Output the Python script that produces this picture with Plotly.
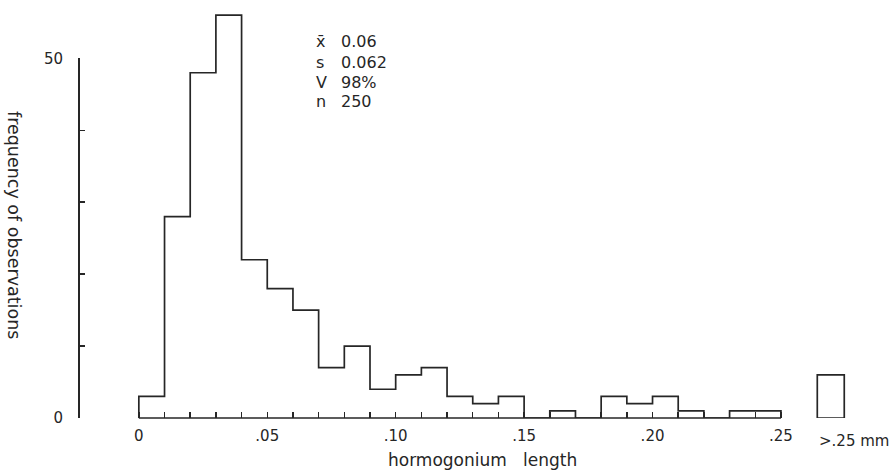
import plotly.graph_objects as go

# ---------------- data ----------------
BIN_LEFT = [0.00, 0.01, 0.02, 0.03, 0.04, 0.05, 0.06, 0.07, 0.08, 0.09,
            0.10, 0.11, 0.12, 0.13, 0.14, 0.15, 0.16, 0.17, 0.18, 0.19,
            0.20, 0.21, 0.22, 0.23, 0.24]
BIN_WIDTH = 0.01
COUNTS = [3, 28, 48, 56, 22, 18, 15, 7, 10, 4,
          6, 7, 3, 2, 3, 0, 1, 0, 3, 2,
          3, 1, 0, 1, 1]
OVER_COUNT = 6
OVER_LABEL = ">.25 mm"

X_TICK_VALUES = [0.00, 0.05, 0.10, 0.15, 0.20, 0.25]
X_TICK_LABELS = ["0", ".05", ".10", ".15", ".20", ".25"]
Y_TICK_VALUES = [0, 10, 20, 30, 40, 50]
Y_TICK_LABELS = ["0", "", "", "", "", "50"]

STAT_SYMBOLS = ["x\u0304", "s", "V", "n"]
STAT_VALUES = ["0.06", "0.062", "98%", "250"]

X_TITLE = "hormogonium\u00a0\u00a0\u00a0length"
Y_TITLE = "frequency of observations"

# ---------------- layout constants ----------------
W, H = 894, 472
ML, MR, MT, MB = 40, 36, 8, 54
PW, PH = W - ML - MR, H - MT - MB
X_RANGE = [-0.005, 0.28]
Y_RANGE = [0, 57]
X_DOMAIN_START_PX = 126
Y_AXIS_PX = 78
OVER_X, OVER_W = 0.2694, 0.0105
INK = "#262626"
FONT = "DejaVu Sans"


def pxx(px):
    return (px - ML) / PW


def pxy(py):
    return (H - MB - py) / PH


# step outline of the histogram
bin_right_end = BIN_LEFT[-1] + BIN_WIDTH
xs = [BIN_LEFT[0]] + BIN_LEFT + [bin_right_end, bin_right_end]
ys = [0] + COUNTS + [COUNTS[-1], 0]

fig = go.Figure()
fig.add_trace(go.Scatter(
    x=xs, y=ys, mode="lines", line=dict(shape="hv", color=INK, width=1.7),
    hoverinfo="skip", showlegend=False, xaxis="x", yaxis="y"))

fig.add_trace(go.Bar(
    x=[OVER_X], y=[OVER_COUNT], width=[OVER_W],
    marker=dict(color="rgba(0,0,0,0)", line=dict(color=INK, width=1.7)),
    hoverinfo="skip", showlegend=False, xaxis="x", yaxis="y"))

# invisible trace that carries the visible frequency axis
fig.add_trace(go.Scatter(
    x=[BIN_LEFT[0]], y=[Y_TICK_VALUES[0]], mode="markers",
    marker=dict(opacity=0), hoverinfo="skip", showlegend=False,
    xaxis="x", yaxis="y2"))

# x tick marks every bin edge, labels at majors
all_edges = BIN_LEFT + [bin_right_end]
ticktext = []
for e in all_edges:
    lab = ""
    for v, t in zip(X_TICK_VALUES, X_TICK_LABELS):
        if abs(v - e) < 1e-9:
            lab = t
    ticktext.append(lab)

fig.update_layout(
    width=W, height=H, autosize=False,
    margin=dict(l=ML, r=MR, t=MT, b=MB, pad=0, autoexpand=False),
    paper_bgcolor="white", plot_bgcolor="rgba(0,0,0,0)",
    font=dict(family=FONT, size=16, color=INK),
    showlegend=False,
    bargap=0,
    xaxis=dict(
        domain=[pxx(X_DOMAIN_START_PX), 1], range=X_RANGE,
        anchor="y", side="bottom",
        showgrid=False, zeroline=False, showline=False,
        tickmode="array", tickvals=all_edges, ticktext=ticktext,
        ticks="inside", ticklen=6, tickwidth=1.5, tickcolor=INK,
        showticklabels=True,
        tickfont=dict(size=15, color=INK), ticklabelstandoff=7,
        fixedrange=True),
    yaxis=dict(
        domain=[0, 1], range=Y_RANGE, visible=True,
        showline=False, showgrid=False, zeroline=False,
        ticks="", showticklabels=False, fixedrange=True),
    yaxis2=dict(
        domain=[0, Y_TICK_VALUES[-1] / Y_RANGE[1]],
        range=[Y_TICK_VALUES[0], Y_TICK_VALUES[-1]],
        anchor="free", position=pxx(Y_AXIS_PX),
        showline=True, linecolor=INK, linewidth=1.6,
        showgrid=False, zeroline=False,
        tickmode="array", tickvals=Y_TICK_VALUES, ticktext=Y_TICK_LABELS,
        ticks="inside", ticklen=5, tickwidth=1.5, tickcolor=INK,
        tickfont=dict(size=15, color=INK), ticklabelstandoff=12,
        fixedrange=True),
)

# x axis baseline from first to last bin edge
fig.add_shape(type="line", xref="x", yref="paper",
              x0=all_edges[0], x1=all_edges[-1], y0=0, y1=0,
              layer="below", line=dict(color=INK, width=1.7))

annotations = []
stat_rows_py = [42, 62, 82, 102]
for sym, val, py in zip(STAT_SYMBOLS, STAT_VALUES, stat_rows_py):
    annotations.append(dict(text=sym, x=pxx(314), y=pxy(py), xref="paper", yref="paper",
                            xanchor="left", yanchor="middle", showarrow=False,
                            font=dict(size=16, color=INK)))
    annotations.append(dict(text=val, x=pxx(339), y=pxy(py), xref="paper", yref="paper",
                            xanchor="left", yanchor="middle", showarrow=False,
                            font=dict(size=16, color=INK)))

annotations.append(dict(text=OVER_LABEL, x=pxx(817), y=pxy(441), xref="paper", yref="paper",
                        xanchor="left", yanchor="middle", showarrow=False,
                        font=dict(size=15, color=INK)))
annotations.append(dict(text=X_TITLE, x=pxx(482), y=pxy(460), xref="paper", yref="paper",
                        xanchor="center", yanchor="middle", showarrow=False,
                        font=dict(size=17, color=INK)))
annotations.append(dict(text=Y_TITLE, x=pxx(14), y=pxy(225), xref="paper", yref="paper",
                        xanchor="center", yanchor="middle", textangle=90, showarrow=False,
                        font=dict(size=17.5, color=INK)))
fig.update_layout(annotations=annotations)

fig.write_html(
    "out.html",
    config={"displayModeBar": False, "staticPlot": True},
    post_script="document.body.style.margin='0';document.body.style.overflow='hidden';")
